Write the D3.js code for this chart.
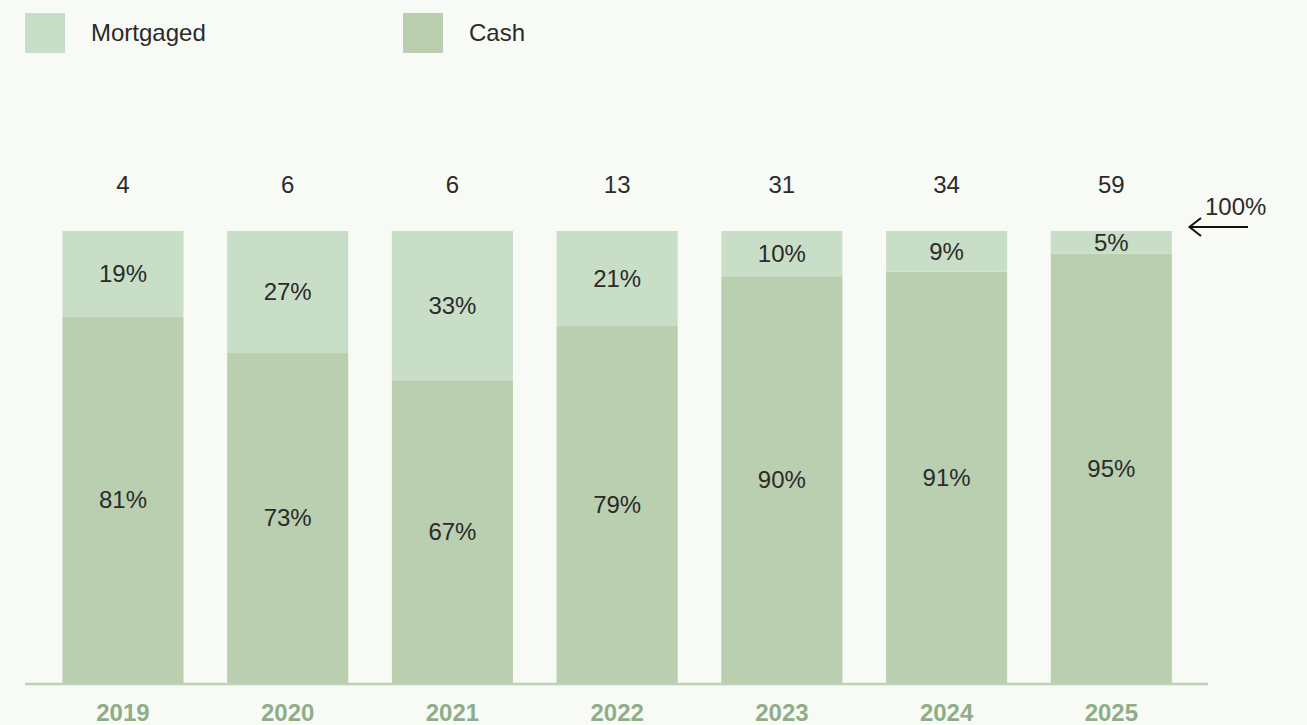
<!DOCTYPE html>
<html>
<head>
<meta charset="utf-8">
<script src="https://cdn.jsdelivr.net/npm/d3@7"></script>
<style>
  html, body { margin: 0; padding: 0; background: #f8faf5; }
  svg { display: block; }
  text { font-family: "Liberation Sans", Arial, Helvetica, sans-serif; }
</style>
</head>
<body>
<svg id="chart" width="1307" height="725"></svg>
<script>
// Share of purchases by payment type, per year
const years = ["2019", "2020", "2021", "2022", "2023", "2024", "2025"];
const mortgaged = [19, 27, 33, 21, 10, 9, 5];
const cash = [81, 73, 67, 79, 90, 91, 95];
const totals = [4, 6, 6, 13, 31, 34, 59];
const seriesNames = ["Mortgaged", "Cash"];
const seriesColors = ["#c9dec6", "#b9cfb0"];

const svg = d3.select("#chart");
const W = 1307, H = 725;

svg.append("rect").attr("width", W).attr("height", H).attr("fill", "#f8faf5");

const x = d3.scaleBand()
  .domain(years)
  .range([40.6, 1193.7])
  .paddingInner(0.265)
  .paddingOuter(0.1325);

const y = d3.scaleLinear().domain([0, 100]).range([683, 231]);

const rows = years.map((yr, i) => ({ year: yr, Cash: cash[i], Mortgaged: mortgaged[i], total: totals[i] }));
const stack = d3.stack().keys(["Cash", "Mortgaged"]);
const layers = stack(rows);
const colorOf = { Mortgaged: seriesColors[0], Cash: seriesColors[1] };

const g = svg.append("g");

layers.forEach(layer => {
  const key = layer.key;
  g.selectAll(null)
    .data(layer)
    .join("rect")
    .attr("x", d => x(d.data.year))
    .attr("width", x.bandwidth())
    .attr("y", d => y(d[1]))
    .attr("height", d => y(d[0]) - y(d[1]))
    .attr("fill", colorOf[key]);

  g.selectAll(null)
    .data(layer)
    .join("text")
    .attr("x", d => x(d.data.year) + x.bandwidth() / 2)
    .attr("y", d => (y(d[0]) + y(d[1])) / 2)
    .attr("dy", "0.35em")
    .attr("text-anchor", "middle")
    .attr("font-size", 24)
    .attr("fill", "#2b2b2b")
    .text(d => d.data[key] + "%");
});

// Totals above each bar
g.selectAll(null)
  .data(rows)
  .join("text")
  .attr("x", d => x(d.year) + x.bandwidth() / 2)
  .attr("y", 185)
  .attr("dy", "0.35em")
  .attr("text-anchor", "middle")
  .attr("font-size", 24)
  .attr("fill", "#2b2b2b")
  .text(d => d.total);

// Baseline
svg.append("line")
  .attr("x1", 25).attr("x2", 1208)
  .attr("y1", 684).attr("y2", 684)
  .attr("stroke", "#bcd2b4").attr("stroke-width", 2.5);

// Year axis
const axis = svg.append("g")
  .attr("transform", "translate(0,684)")
  .call(d3.axisBottom(x).tickSize(0).tickPadding(0));
axis.select(".domain").remove();
axis.selectAll("text")
  .attr("y", 29)
  .attr("dy", "0.35em")
  .attr("font-size", 24)
  .attr("font-weight", "bold")
  .attr("font-family", "\"Liberation Sans\", Arial, sans-serif")
  .attr("fill", "#8fae88");

// 100% marker
svg.append("text")
  .attr("x", 1205).attr("y", 207).attr("dy", "0.35em")
  .attr("font-size", 24).attr("fill", "#2b2b2b")
  .text("100%");
const arrow = svg.append("g").attr("stroke", "#111").attr("stroke-width", 2).attr("fill", "none");
arrow.append("line").attr("x1", 1189).attr("x2", 1248).attr("y1", y(100) - 4).attr("y2", y(100) - 4);
arrow.append("path")
  .attr("d", `M1201,${y(100) - 13} L1189.5,${y(100) - 4} L1201,${y(100) + 5}`);

// Legend
const legendX = [25, 403];
seriesNames.forEach((name, i) => {
  svg.append("rect")
    .attr("x", legendX[i]).attr("y", 13)
    .attr("width", 40).attr("height", 40)
    .attr("fill", seriesColors[i]);
  svg.append("text")
    .attr("x", legendX[i] + 66).attr("y", 33).attr("dy", "0.35em")
    .attr("font-size", 24).attr("fill", "#2b2b2b")
    .text(name);
});
</script>
</body>
</html>
